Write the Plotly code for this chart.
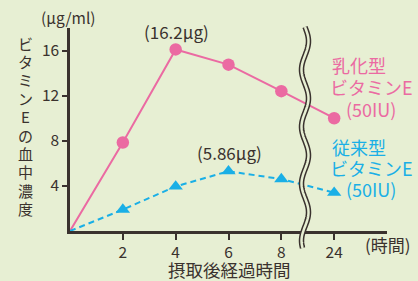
import numpy as np
import plotly.graph_objects as go

# ---- data ----
hour_labels = ["0", "2", "4", "6", "8", "24"]
emulsified = [0, 7.85, 16.1, 14.75, 12.4, 10.0]   # 乳化型ビタミンE
conventional = [0, 1.9, 3.95, 5.3, 4.6, 3.4]      # 従来型ビタミンE
y_ticks = [4, 8, 12, 16]

# x positions: categories evenly spaced (axis is broken between 8 and 24)
x_pos = [2 * i for i in range(len(hour_labels))]

BG = "#E7EFD3"
PINK = "#EB6AA2"
BLUE = "#1AAFE6"
DARK = "#3A322E"
FONT = "Noto Sans CJK JP"

fig = go.Figure()
fig.add_trace(go.Scatter(
    x=x_pos, y=emulsified, mode="lines",
    line=dict(color=PINK, width=2), hoverinfo="skip"))
fig.add_trace(go.Scatter(
    x=x_pos[1:], y=emulsified[1:], mode="markers",
    marker=dict(color=PINK, size=12.5, symbol="circle"), hoverinfo="skip"))
fig.add_trace(go.Scatter(
    x=x_pos, y=conventional, mode="lines",
    line=dict(color=BLUE, width=2, dash="6px,4px"), hoverinfo="skip"))
fig.add_trace(go.Scatter(
    x=x_pos[1:], y=conventional[1:], mode="markers",
    marker=dict(color=BLUE, size=12.5, symbol="triangle-up"), hoverinfo="skip"))

W, H = 418, 281
L, R, T, B = 70, 31, 28, 50
pw, ph = W - L - R, H - T - B

def px_to_paper(xp, yp):
    return (xp - L) / pw, (H - B - yp) / ph

# wavy break line
ys = np.linspace(27, 248, 120)
xs = 305 + 3.5 * np.sin((ys - 27) / 57 * 2 * np.pi)
pts = [px_to_paper(a, b) for a, b in zip(xs, ys)]
path = "M " + " L ".join(f"{a:.4f},{b:.4f}" for a, b in pts)
shapes = [
    dict(type="path", path=path, xref="paper", yref="paper",
         line=dict(color=DARK, width=5.5), layer="above"),
    dict(type="path", path=path, xref="paper", yref="paper",
         line=dict(color=BG, width=2.5), layer="above"),
]

ann = []
def add_text(text, xp, yp, size, color=DARK, xanchor="center"):
    xa, ya = px_to_paper(xp, yp)
    ann.append(dict(text=text, x=xa, y=ya, xref="paper", yref="paper",
                    showarrow=False, xanchor=xanchor, yanchor="middle",
                    font=dict(family=FONT, size=size, color=color)))

add_text("(μg/ml)", 68, 17, 15.5)
add_text("(16.2μg)", 176, 32, 17)
add_text("(5.86μg)", 229, 152, 17)
add_text("(時間)", 388, 245, 17)
add_text("摂取後経過時間", 229, 269.5, 17.5)

# vertical y-axis title
ytitle = "ビタミンEの血中濃度"
for i, ch in enumerate(ytitle):
    add_text(ch, 25, 43 + i * 18.4, 15)

# series labels
add_text("乳化型", 330, 65, 18, PINK, xanchor="left")
add_text("ビタミンE", 371, 87, 18, PINK)
add_text("(50IU)", 371, 109, 18, PINK)
add_text("従来型", 330, 147, 18, BLUE, xanchor="left")
add_text("ビタミンE", 371, 168, 18, BLUE)
add_text("(50IU)", 371, 189, 18, BLUE)

fig.update_layout(
    width=W, height=H,
    margin=dict(l=L, r=R, t=T, b=B),
    paper_bgcolor=BG, plot_bgcolor=BG,
    showlegend=False,
    shapes=shapes,
    annotations=ann,
    font=dict(family=FONT, color=DARK),
    xaxis=dict(range=[0, 12], tickvals=x_pos[1:], ticktext=hour_labels[1:],
               showgrid=False, zeroline=False, showline=True,
               linecolor=DARK, linewidth=2.5, ticks="outside", ticklen=6,
               tickwidth=2, tickcolor=DARK,
               tickfont=dict(size=15.5, family=FONT, color=DARK)),
    yaxis=dict(range=[0, 18], tickvals=y_ticks,
               showgrid=False, zeroline=False, showline=True,
               linecolor=DARK, linewidth=2.5, ticks="outside", ticklen=5,
               tickwidth=2, tickcolor=DARK,
               tickfont=dict(size=15.5, family=FONT, color=DARK)),
)

fig.write_html(
    "out.html",
    config={"displayModeBar": False},
    post_script="document.body.style.margin='0';document.body.style.background='%s';" % BG,
)
